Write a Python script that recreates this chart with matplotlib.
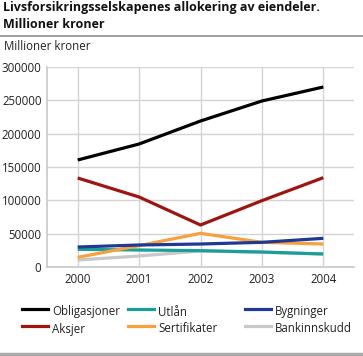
import matplotlib
matplotlib.use("Agg")
import matplotlib.pyplot as plt
from matplotlib.lines import Line2D

years = [2000, 2001, 2002, 2003, 2004]
obligasjoner = [160500, 184500, 219000, 249000, 270000]
aksjer = [133500, 105000, 63000, 99500, 134000]
utlan = [26500, 25500, 24500, 22500, 19500]
sertifikater = [14500, 32000, 50500, 37000, 34500]
bygninger = [30000, 33000, 34500, 37000, 43000]
bankinnskudd = [10500, 16500, 24000, 22000, 19500]
yticks = [0, 50000, 100000, 150000, 200000, 250000, 300000]

series = [
    ("Obligasjoner", obligasjoner, "#000000"),
    ("Aksjer", aksjer, "#9e1510"),
    ("Utlån", utlan, "#1c9e98"),
    ("Sertifikater", sertifikater, "#f7a03c"),
    ("Bygninger", bygninger, "#1f3a93"),
    ("Bankinnskudd", bankinnskudd, "#c8c8c8"),
]
zorders = {"Bankinnskudd": 2, "Utlån": 3, "Sertifikater": 4, "Bygninger": 5, "Aksjer": 6, "Obligasjoner": 7}

plt.rcParams['font.family'] = ['Open Sans', 'DejaVu Sans']
fig = plt.figure(figsize=(3.63, 3.56), dpi=100)
ax = fig.add_axes([47/363, 1-267/356, (354-47)/363, (267-67)/356])

for name, vals, col in series:
    ax.plot(years, vals, color=col, lw=2.3, zorder=zorders[name], solid_capstyle='butt')

ax.set_xlim(1999.5, 2004.5)
ax.set_ylim(0, 300000)
ax.set_xticks(years)
ax.set_yticks(yticks)
ax.set_yticklabels([str(v) for v in yticks])
ax.grid(True, color="#d4d4d4", lw=1.0, zorder=0)
ax.set_axisbelow(True)
for s in ["top", "right"]:
    ax.spines[s].set_visible(False)
for s in ["left", "bottom"]:
    ax.spines[s].set_color("#c8c8c8")
    ax.spines[s].set_linewidth(1.2)
ax.tick_params(length=0, labelsize=8.3, colors="#222222", pad=4)

fig.text(3/363, 1-11/356, "Livsforsikringsselskapenes allokering av eiendeler.",
         fontsize=9.0, fontweight='bold', va='baseline', ha='left', color="#111111")
fig.text(3/363, 1-28/356, "Millioner kroner",
         fontsize=9.0, fontweight='bold', va='baseline', ha='left', color="#111111")
fig.add_artist(Line2D([0, 1], [1-36/356, 1-36/356], color="#999999", lw=1.3))
fig.text(4/363, 1-47/356, "Millioner kroner", fontsize=8.3, va='center', ha='left', color="#222222")
fig.add_artist(Line2D([0, 1], [1-354/356, 1-354/356], color="#aaaaaa", lw=2.5))

# legend
cols_x = [22, 128, 245]
rows_y = [312, 329]
order = [[0, 1], [2, 3], [4, 5]]
for ci, idxs in enumerate(order):
    for ri, si in enumerate(idxs):
        name, vals, col = series[si]
        x0 = cols_x[ci]
        y = 1 - (rows_y[ri] - 3) / 356
        fig.add_artist(Line2D([x0/363, (x0+26)/363], [y, y], color=col, lw=2.3))
        fig.text((x0+30)/363, 1 - rows_y[ri]/356, name, fontsize=8.3, va='center', ha='left', color="#222222")

fig.savefig("out.png", dpi=100)
